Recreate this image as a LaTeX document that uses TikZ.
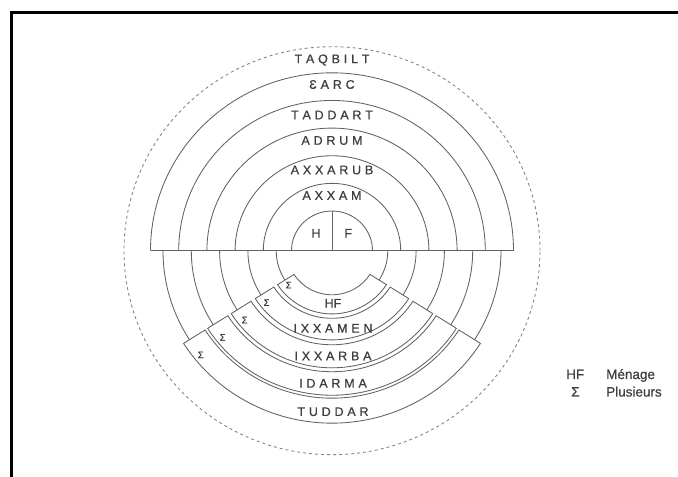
\documentclass[tikz,border=0pt]{standalone}
\usepackage{fontspec}
\setmainfont{Liberation Sans}
\newfontfamily\labfont[FakeBold=0.7]{Liberation Sans}
\makeatletter
\newcommand\lsp[2]{\@tfor\x@ch:=#2\do{\x@ch\kern#1}\unkern}
\makeatother
\definecolor{ln}{HTML}{626262}
\definecolor{tx}{HTML}{3E3E3E}
\tikzset{
  arcline/.style={draw=ln, line width=0.85pt},
  lab/.style={text=tx, font=\labfont\fontsize{12.5}{14}\selectfont, inner sep=0pt},
  sig/.style={text=tx, font=\labfont\fontsize{9.5}{12}\selectfont, inner sep=0pt},
  leg/.style={text=tx, font=\labfont\fontsize{13.5}{16}\selectfont, inner sep=0pt, anchor=base west},
  bandbox/.style={arcline, fill=white}
}
\begin{document}
\begin{tikzpicture}[x=1pt,y=1pt]
\useasboundingbox (0,0) rectangle (678,477);
\fill[white] (0,0) rectangle (678,477);
\coordinate (C) at (332,226.3);
% frame
\draw[line width=3pt] (11.5,-10) -- (11.5,464.5) -- (700,464.5);
% dashed outer circle
\draw[arcline, draw=ln!80, dash pattern=on 3pt off 3pt] (C) ellipse [x radius=208, y radius=204];
% upper semicircles
\foreach \r in {40.5,68.7,96.9,125.1,153.3,181.5}
  \draw[arcline] ([xshift=-\r]C) arc[start angle=180, end angle=0, x radius=\r, y radius=0.98*\r];
\draw[arcline] ([xshift=-181.5]C) -- ([xshift=181.5]C);
\draw[arcline] (C) -- ([yshift=39.7]C);
% lower semicircles
\foreach \r in {55.8,84.1,112.4,140.7,169}
  \draw[arcline] ([xshift=-\r]C) arc[start angle=180, end angle=360, x radius=\r, y radius=0.98*\r];
% bands
\foreach \ri/\ro/\rs in {45/64.5/55.8, 69/91/84.1, 96/119.5/112.4, 123.5/147.5/140.7, 150.5/176/169}{
  \draw[bandbox] ([shift={(212.5:{\ri} and {0.98*\ri})}]C)
     arc[start angle=212.5, end angle=327.5, x radius=\ri, y radius=0.98*\ri]
     -- ([shift={(327.5:{\ro} and {0.98*\ro})}]C)
     arc[start angle=327.5, end angle=212.5, x radius=\ro, y radius=0.98*\ro]
     -- cycle;
  \node[sig] at ([shift={(219:{\rs} and {0.98*\rs})}]C) {Σ};
}
% upper labels
\node[lab] (taqbilt) at (332,417) {\lsp{3.8pt}{TAQBILT}};
\node[lab] (earc) at (332,392.5) {\lsp{3.8pt}{ƐARC}};
\node[lab] (taddart) at (332,362) {\lsp{3.8pt}{TADDART}};
\node[lab] (adrum) at (332,336.5) {\lsp{3.8pt}{ADRUM}};
\node[lab] (axxarub) at (332,307) {\lsp{3.8pt}{AXXARUB}};
\node[lab] (axxam) at (332,281.5) {\lsp{3.8pt}{AXXAM}};
\node[lab] (h) at (316,243.7) {H};
\node[lab] (f) at (348.3,243.7) {F};
% lower labels
\node[lab] (hf) at (333,173.7) {HF};
\node[lab] (ixxamen) at (333,148.7) {\lsp{3.8pt}{IXXAMEN}};
\node[lab] (ixxarba) at (333,121) {\lsp{3.8pt}{IXXARBA}};
\node[lab] (idarma) at (333,93.7) {\lsp{3.8pt}{IDARMA}};
\node[lab] (tuddar) at (333,65.3) {\lsp{3.8pt}{TUDDAR}};
% legend
\node[leg] (lhf) at (566,98) {HF};
\node[leg] (lmen) at (606,98) {Ménage};
\node[leg] (lsig) at (571,80.5) {Σ};
\node[leg] (lplu) at (606,80.5) {Plusieurs};
\end{tikzpicture}
\end{document}
